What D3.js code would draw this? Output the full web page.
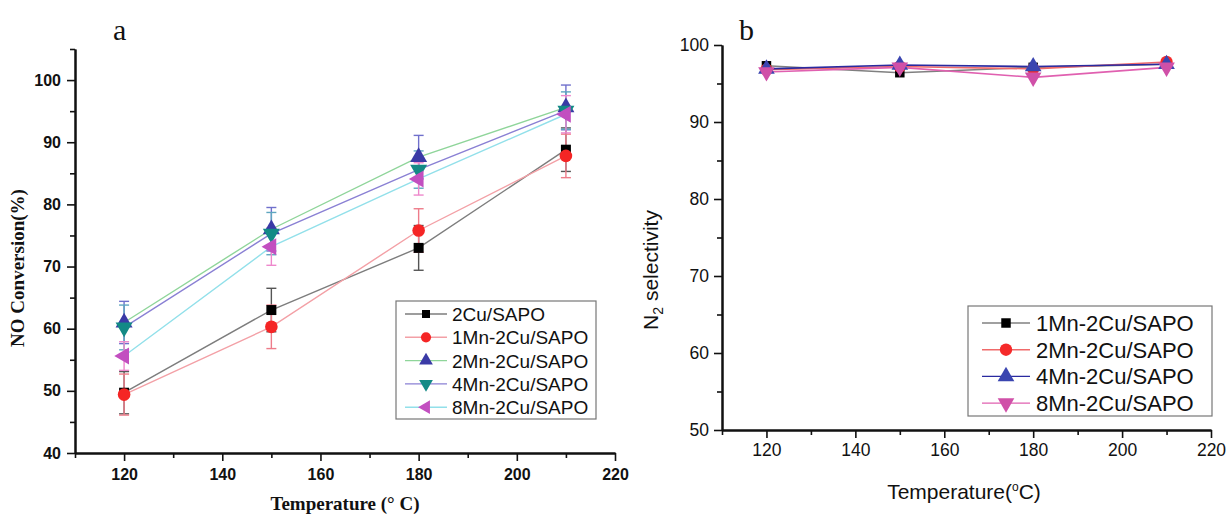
<!DOCTYPE html>
<html>
<head>
<meta charset="utf-8">
<script src="https://cdn.jsdelivr.net/npm/d3@7/dist/d3.min.js"></script>
<style>
  html, body { margin: 0; padding: 0; background: #fff; }
  svg { display: block; }
</style>
</head>
<body>
<svg id="chart" width="1226" height="515"></svg>
<script>
// ---- Panel a: NO conversion ----
const temps = [120, 150, 180, 210];
const seriesA = ["2Cu/SAPO", "1Mn-2Cu/SAPO", "2Mn-2Cu/SAPO", "4Mn-2Cu/SAPO", "8Mn-2Cu/SAPO"];
const conv2Cu = [49.7, 63.0, 73.0, 88.8];
const conv1Mn = [49.4, 60.3, 75.8, 87.8];
const conv2Mn = [61.0, 76.0, 87.6, 95.6];
const conv4Mn = [60.2, 75.3, 85.6, 95.1];
const conv8Mn = [55.6, 73.2, 84.1, 94.5];
const err2Cu = [3.4, 3.5, 3.6, 3.5];
const err1Mn = [3.3, 3.5, 3.5, 3.5];
const err2Mn = [3.4, 3.5, 3.5, 3.6];
const err4Mn = [3.6, 3.4, 3.0, 3.0];
const err8Mn = [2.3, 3.0, 2.6, 3.0];
const xTicksA = [120, 140, 160, 180, 200, 220];
const yTicksA = [40, 50, 60, 70, 80, 90, 100];

// ---- Panel b: N2 selectivity ----
const seriesB = ["1Mn-2Cu/SAPO", "2Mn-2Cu/SAPO", "4Mn-2Cu/SAPO", "8Mn-2Cu/SAPO"];
const sel1Mn = [97.3, 96.4, 97.1, 97.5];
const sel2Mn = [96.8, 97.2, 96.9, 97.8];
const sel4Mn = [96.9, 97.4, 97.2, 97.5];
const sel8Mn = [96.5, 97.1, 95.8, 97.1];
const xTicksB = [120, 140, 160, 180, 200, 220];
const yTicksB = [50, 60, 70, 80, 90, 100];

const svg = d3.select("#chart");

// symbol helpers
const sym = {
  square:  { type: d3.symbolSquare,   rot: 0 },
  circle:  { type: d3.symbolCircle,   rot: 0 },
  up:      { type: d3.symbolTriangle, rot: 0 },
  down:    { type: d3.symbolTriangle, rot: 180 },
  left:    { type: d3.symbolTriangle, rot: -90 }
};
function drawMarker(g, x, y, shape, size, fill) {
  const s = sym[shape];
  g.append("path")
    .attr("d", d3.symbol().type(s.type).size(size)())
    .attr("transform", `translate(${x},${y}) rotate(${s.rot})`)
    .attr("fill", fill);
}

function drawAxes(g, x, y, opts) {
  const [x0] = x.range();
  const [y0] = y.range();
  // minor ticks between the labelled ones
  const xMinor = d3.range(x.domain()[0], x.domain()[1] + 0.01, opts.xMinorStep)
    .filter(v => !opts.xTicks.includes(v));
  const yMinor = d3.range(y.domain()[0], y.domain()[1] + 0.01, opts.yMinorStep)
    .filter(v => !opts.yTicks.includes(v));

  const xAxis = g.append("g").attr("transform", `translate(0,${y0})`)
    .call(d3.axisBottom(x).tickValues(opts.xTicks).tickSize(opts.major).tickSizeOuter(0).tickPadding(opts.xPad).tickFormat(d3.format("d")));
  const xMin = g.append("g").attr("transform", `translate(0,${y0})`)
    .call(d3.axisBottom(x).tickValues(xMinor).tickSize(opts.minor).tickSizeOuter(0).tickFormat(""));
  const yAxis = g.append("g").attr("transform", `translate(${x0},0)`)
    .call(d3.axisLeft(y).tickValues(opts.yTicks).tickSize(opts.major).tickSizeOuter(0).tickPadding(opts.yPad).tickFormat(d3.format("d")));
  const yMin = g.append("g").attr("transform", `translate(${x0},0)`)
    .call(d3.axisLeft(y).tickValues(yMinor).tickSize(opts.minor).tickSizeOuter(0).tickFormat(""));
  [xAxis, xMin, yAxis, yMin].forEach(a => {
    a.selectAll("path").attr("stroke", "#111").attr("stroke-width", 2);
    a.selectAll("line").attr("stroke", "#111").attr("stroke-width", 1.6);
    a.selectAll("text").attr("fill", "#111")
      .style("font-family", opts.font).style("font-size", opts.fontSize + "px")
      .style("font-weight", opts.weight);
  });
}

// ================= Panel a =================
const gA = svg.append("g");
const xA = d3.scaleLinear().domain([110, 220]).range([75, 615]);
const yA = d3.scaleLinear().domain([40, 105]).range([453, 49]);

const dataA = [
  { name: seriesA[0], v: conv2Cu, e: err2Cu, line: "#7d7d7d", mark: "#000000", err: "#555555", shape: "square", size: 100 },
  { name: seriesA[1], v: conv1Mn, e: err1Mn, line: "#f3a0a6", mark: "#f52525", err: "#ee7c8a", shape: "circle", size: 125 },
  { name: seriesA[2], v: conv2Mn, e: err2Mn, line: "#8fd59a", mark: "#3a3aa6", err: "#7070cc", shape: "up",     size: 125 },
  { name: seriesA[3], v: conv4Mn, e: err4Mn, line: "#8a80d4", mark: "#138a86", err: "#5fa6c0", shape: "down",   size: 125 },
  { name: seriesA[4], v: conv8Mn, e: err8Mn, line: "#92e0ea", mark: "#c24fc0", err: "#ee88cc", shape: "left",   size: 125 }
];

drawAxes(gA, xA, yA, {
  xTicks: xTicksA, yTicks: yTicksA, xMinorStep: 10, yMinorStep: 5,
  major: 8, minor: 5, xPad: 8, yPad: 6,
  font: "'Liberation Sans', Arial, sans-serif", fontSize: 16, weight: "bold"
});

const lineA = d3.line().x((d, i) => xA(temps[i])).y(d => yA(d));
dataA.forEach(s => {
  gA.append("path").datum(s.v).attr("d", lineA)
    .attr("fill", "none").attr("stroke", s.line).attr("stroke-width", 1.4);
});
// error bars
dataA.forEach(s => {
  s.v.forEach((v, i) => {
    const cx = xA(temps[i]);
    const top = yA(v + s.e[i]), bot = yA(v - s.e[i]);
    const eg = gA.append("g").attr("stroke", s.err).attr("stroke-width", 1.4);
    eg.append("line").attr("x1", cx).attr("x2", cx).attr("y1", top).attr("y2", bot);
    eg.append("line").attr("x1", cx - 5).attr("x2", cx + 5).attr("y1", top).attr("y2", top);
    eg.append("line").attr("x1", cx - 5).attr("x2", cx + 5).attr("y1", bot).attr("y2", bot);
  });
});
dataA.forEach(s => {
  s.v.forEach((v, i) => drawMarker(gA, xA(temps[i]), yA(v), s.shape, s.size, s.mark));
});

// legend a
const legA = gA.append("g");
legA.append("rect").attr("x", 396).attr("y", 301).attr("width", 200).attr("height", 118)
  .attr("fill", "#fff").attr("stroke", "#777").attr("stroke-width", 1.2);
dataA.forEach((s, i) => {
  const yy = 314 + i * 23.3;
  legA.append("line").attr("x1", 405).attr("x2", 447).attr("y1", yy).attr("y2", yy)
    .attr("stroke", s.line).attr("stroke-width", 1.4);
  drawMarker(legA, 426, yy, s.shape, s.size * 0.65, s.mark);
  legA.append("text").attr("x", 452).attr("y", yy + 7).text(s.name)
    .style("font-family", "'Liberation Sans', Arial, sans-serif").style("font-size", "19px").attr("fill", "#111");
});

// labels a
gA.append("text").attr("x", 113).attr("y", 40).text("a")
  .style("font-family", "'Liberation Serif', 'Times New Roman', serif").style("font-size", "30px").attr("fill", "#111");
gA.append("text").attr("x", 345).attr("y", 510).attr("text-anchor", "middle").text("Temperature (° C)")
  .style("font-family", "'Liberation Serif', 'Times New Roman', serif").style("font-size", "19px").style("font-weight", "bold").attr("fill", "#111");
gA.append("text").attr("transform", "translate(24,268) rotate(-90)").attr("text-anchor", "middle").text("NO Conversion(%)")
  .style("font-family", "'Liberation Serif', 'Times New Roman', serif").style("font-size", "19px").style("font-weight", "bold").attr("fill", "#111");

// ================= Panel b =================
const gB = svg.append("g");
const xB = d3.scaleLinear().domain([110, 220]).range([722, 1211]);
const yB = d3.scaleLinear().domain([50, 100]).range([430, 45]);

const dataB = [
  { name: seriesB[0], v: sel1Mn, line: "#808080", mark: "#000000", shape: "square", size: 90 },
  { name: seriesB[1], v: sel2Mn, line: "#f06a6a", mark: "#f52a2a", shape: "circle", size: 120 },
  { name: seriesB[2], v: sel4Mn, line: "#2a2aa0", mark: "#3a45b0", shape: "up",     size: 120 },
  { name: seriesB[3], v: sel8Mn, line: "#e060b0", mark: "#d050a8", shape: "down",   size: 120 }
];

drawAxes(gB, xB, yB, {
  xTicks: xTicksB, yTicks: yTicksB, xMinorStep: 10, yMinorStep: 5,
  major: 8, minor: 5, xPad: 6, yPad: 5,
  font: "'Liberation Sans', Arial, sans-serif", fontSize: 17.5, weight: "normal"
});

const lineB = d3.line().x((d, i) => xB(temps[i])).y(d => yB(d));
dataB.forEach(s => {
  gB.append("path").datum(s.v).attr("d", lineB)
    .attr("fill", "none").attr("stroke", s.line).attr("stroke-width", 1.6);
});
dataB.forEach(s => {
  s.v.forEach((v, i) => drawMarker(gB, xB(temps[i]), yB(v), s.shape, s.size, s.mark));
});

// legend b
const legB = gB.append("g");
legB.append("rect").attr("x", 968).attr("y", 306).attr("width", 244).attr("height", 110)
  .attr("fill", "#fff").attr("stroke", "#777").attr("stroke-width", 1.2);
dataB.forEach((s, i) => {
  const yy = 323 + i * 26.7;
  legB.append("line").attr("x1", 982).attr("x2", 1030).attr("y1", yy).attr("y2", yy)
    .attr("stroke", s.line).attr("stroke-width", 1.4);
  drawMarker(legB, 1006, yy, s.shape, s.size, s.mark);
  legB.append("text").attr("x", 1036).attr("y", yy + 8).text(s.name)
    .style("font-family", "'Liberation Sans', Arial, sans-serif").style("font-size", "22px").attr("fill", "#111");
});

// labels b
gB.append("text").attr("x", 739).attr("y", 40).text("b")
  .style("font-family", "'Liberation Serif', 'Times New Roman', serif").style("font-size", "30px").attr("fill", "#111");
const xlB = gB.append("text").attr("x", 964).attr("y", 499).attr("text-anchor", "middle")
  .style("font-family", "'Liberation Sans', Arial, sans-serif").style("font-size", "21px").attr("fill", "#111");
xlB.append("tspan").text("Temperature(");
xlB.append("tspan").text("o").attr("dy", -8).style("font-size", "12px");
xlB.append("tspan").text("C)").attr("dy", 8);
const ylB = gB.append("text").attr("transform", "translate(658,270) rotate(-90)").attr("text-anchor", "middle")
  .style("font-family", "'Liberation Sans', Arial, sans-serif").style("font-size", "21px").attr("fill", "#111");
ylB.append("tspan").text("N");
ylB.append("tspan").text("2").attr("dy", 5).style("font-size", "14px");
ylB.append("tspan").text(" selectivity").attr("dy", -5);
</script>
</body>
</html>
